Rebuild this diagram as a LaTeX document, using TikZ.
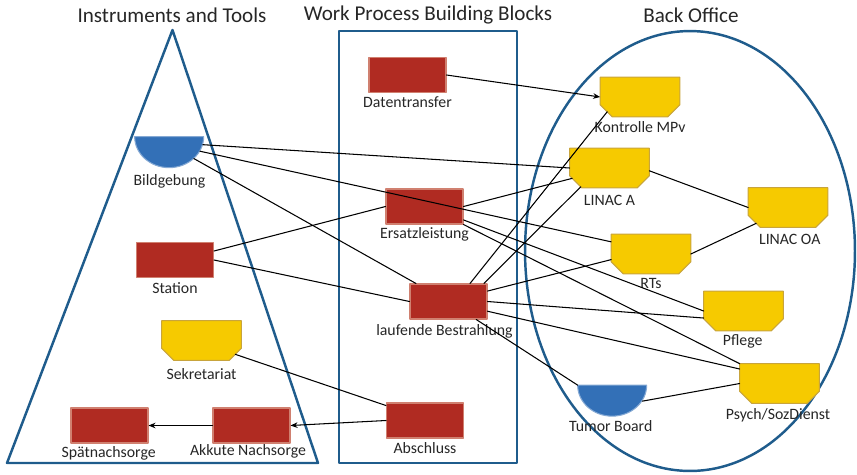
\documentclass[tikz,border=0pt]{standalone}
\usepackage{fontspec}
\setmainfont{Carlito}
\usepackage{xcolor}
\usetikzlibrary{arrows.meta,positioning}
\definecolor{frameblue}{HTML}{1F5C8C}
\definecolor{blkred}{HTML}{B02B22}
\definecolor{blkredrim}{HTML}{D08070}
\definecolor{blkyel}{HTML}{F6CA00}
\definecolor{blkyelrim}{HTML}{C8A43C}
\definecolor{blkblue}{HTML}{3370B7}
\definecolor{txtgray}{HTML}{262626}
\tikzset{
  every picture/.style={line join=round, line cap=round, >={Stealth[length=4pt,width=3.2pt]}},
  frame/.style={draw=frameblue, line width=1.4pt},
  redblk/.style={rectangle, fill=blkred, draw=blkredrim, line width=0.6pt,
    minimum width=1.54cm, minimum height=0.7cm, inner sep=0pt},
  yelblk/.style={rectangle, minimum width=1.58cm, minimum height=0.78cm, inner sep=0pt},
  yelfill/.style={fill=blkyel, draw=blkyelrim, line width=0.6pt},
  domeblk/.style={rectangle, minimum width=1.38cm, minimum height=0.62cm, inner sep=0pt},
  domefill/.style={fill=blkblue, draw=blkblue!60!white, line width=0.6pt},
  lbl/.style={font=\fontsize{9}{10}\selectfont, text=txtgray, inner sep=0pt,
    text height=6.5pt, text depth=2pt},
  ttl/.style={font=\fontsize{12}{14}\selectfont, text=txtgray, inner sep=0pt},
  link/.style={draw=black, line width=0.6pt},
}

\begin{document}
\begin{tikzpicture}[x=0.02cm,y=-0.02cm]
\useasboundingbox (0,0) rectangle (857,474);
% the three groups
\draw[frame] (172.5,30)--(318,463)--(7,463)--cycle;
\draw[frame] (339,31) rectangle (517,463);
\draw[frame] (690,251) ellipse [x radius=3.3cm, y radius=4.4cm];
\node[ttl] (ttl-it) at (172,15) {Instruments and Tools};
\node[ttl] (ttl-wp) at (428,15) {Work Process Building Blocks};
\node[ttl] (ttl-bo) at (691,15) {Back Office};
% instruments and tools
\node[domeblk] (bild) at (169.5,152.5) {};
\node[redblk] (station) at (175,260) {};
\node[yelblk] (sekr) at (201.5,340.5) {};
\node[redblk] (spaet) at (109.5,425.5) {};
\node[redblk] (akkut) at (251.5,425.5) {};
% work process building blocks
\node[redblk] (dt) at (407.5,75) {};
\node[redblk] (ersatz) at (424.5,206.5) {};
\node[redblk] (lauf) at (448.5,301.5) {};
\node[redblk] (absch) at (425,420.5) {};
% back office
\node[yelblk] (kmpv) at (640,97) {};
\node[yelblk] (linaca) at (609.5,168) {};
\node[yelblk] (linacoa) at (788,207.5) {};
\node[yelblk] (rts) at (651,254) {};
\node[yelblk] (pflege) at (743.5,311) {};
\node[yelblk] (psych) at (779.5,383.5) {};
\node[domeblk] (tumor) at (612.5,401) {};
\foreach \n in {sekr,kmpv,linaca,linacoa,rts,pflege,psych}
  \draw[yelfill] (\n.north west) -- (\n.north east) -- ([shift={(0,-12)}]\n.south east)
    -- ([shift={(-12,0)}]\n.south east) -- ([shift={(12,0)}]\n.south west)
    -- ([shift={(0,-12)}]\n.south west) -- cycle;
\foreach \n in {bild,tumor}
  \draw[domefill] (\n.north west) arc[start angle=180,end angle=360,x radius=0.69cm,y radius=0.62cm] -- cycle;
% labels
\node[lbl,below=3.1pt of bild] (bild-t) {Bildgebung};
\node[lbl,below=2pt of station] (station-t) {Station};
\node[lbl,below=4.3pt of sekr] (sekr-t) {Sekretariat};
\node[lbl,below=1.4pt of spaet,xshift=-0.5pt] (spaet-t) {Spätnachsorge};
\node[lbl,below=0.3pt of akkut,xshift=-2pt] (akkut-t) {Akkute Nachsorge};
\node[lbl,below=1.4pt of dt] (dt-t) {Datentransfer};
\node[lbl,below=1.4pt of ersatz] (ersatz-t) {Ersatzleistung};
\node[lbl,below=2.6pt of lauf,xshift=-2.3pt] (lauf-t) {laufende Bestrahlung};
\node[lbl,below=2pt of absch] (absch-t) {Abschluss};
\node[lbl,below=2.3pt of kmpv] (kmpv-t) {Kontrolle MPv};
\node[lbl,below=3.1pt of linaca] (linaca-t) {LINAC A};
\node[lbl,below=3.1pt of linacoa,xshift=1pt] (linacoa-t) {LINAC OA};
\node[lbl,below=1.4pt of rts] (rts-t) {RTs};
\node[lbl,below=1.4pt of pflege,xshift=-0.5pt] (pflege-t) {Pflege};
\node[lbl,below=2.6pt of psych,xshift=-0.8pt] (psych-t) {Psych/SozDienst};
\node[lbl,below=1.4pt of tumor,xshift=-1pt] (tumor-t) {Tumor Board};
% connections
\draw[link,->] (dt.east) -- (kmpv.west);
\draw[link] ([shift={(15:34.5 and 31)}]bild.north) -- (linaca.west);
\draw[link] ([shift={(28:34.5 and 31)}]bild.north) -- (rts.163);
\draw[link] ([shift={(45:34.5 and 31)}]bild.north) -- (lauf.151);
\draw[link] (station.13) -- (ersatz.west);
\draw[link] (station.east) -- (lauf.west);
\draw[link] (ersatz.east) -- ([shift={(2.5,-9.5)}]linaca.south west);
\draw[link] (ersatz.-19) -- (pflege.west);
\draw[link] (ersatz.south east) -- (psych.north west);
\draw[link] (lauf.40) -- ([shift={(7,-5)}]kmpv.south west);
\draw[link] (lauf.27) -- ([shift={(11,-1)}]linaca.south west);
\draw[link] (lauf.15) -- (rts.188);
\draw[link] (lauf.east) -- (pflege.190);
\draw[link] (lauf.-14) -- (psych.160);
\draw[link] (lauf.-33) -- (tumor.north west);
\draw[link] (linaca.-4) -- (linacoa.west);
\draw[link] (rts.east) -- ([shift={(8,-4)}]linacoa.south west);
\draw[link] ([shift={(30:34.5 and 32)}]tumor.north) -- (psych.west);
\draw[link] ([shift={(-6,-6)}]sekr.south east) -- (absch.159);
\draw[link,->] (absch.west) -- (akkut.east);
\draw[link,->] (akkut.west) -- (spaet.east);
\end{tikzpicture}
\end{document}
